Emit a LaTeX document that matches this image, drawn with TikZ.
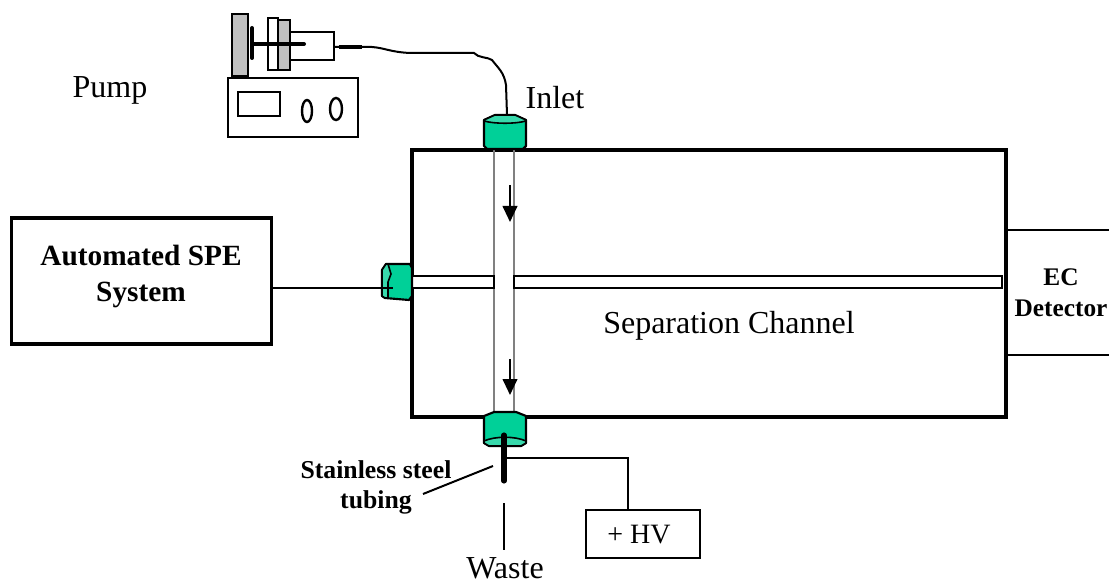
\documentclass[tikz,border=0pt]{standalone}
\usepackage{fontspec}
\setmainfont{Liberation Serif}
\tikzset{
  box/.style={draw,line width=2.4pt,inner sep=0pt},
  thinbox/.style={draw,line width=1.6pt,inner sep=0pt},
  label/.style={inner sep=0pt,font=\fontsize{24}{28}\selectfont},
  boldlabel/.style={inner sep=0pt,align=center,font=\fontsize{19.3}{23}\selectfont\bfseries},
  wire/.style={line width=1.5pt},
  glass/.style={line width=1.4pt,draw=black!50},
  fitbody/.style={draw,line width=1.6pt,line join=round,fill=fitgreen},
  fitcap/.style={draw,line width=1.2pt,line join=round,fill=fitlight},
  flow/.style={line width=1.5pt,-{Triangle[length=12pt,width=11pt]}}
}
\definecolor{fitgreen}{HTML}{00D098}
\definecolor{fitlight}{HTML}{38D9AC}
\definecolor{plategray}{HTML}{C0C0C0}
\usetikzlibrary{arrows.meta}
\begin{document}
\begin{tikzpicture}[x=0.75pt,y=-0.75pt]
  \useasboundingbox (0,0) rectangle (1109,584);
  % main boxes
  \node[box,minimum width=194.5pt,minimum height=94.5pt] (spe) at (141.5,281) {};
  \node[boldlabel,font=\fontsize{22}{27}\selectfont\bfseries] (spelabel) at (141,276) {Automated SPE\\System};
  \node[box,line width=3pt,minimum width=445.5pt,minimum height=200pt] (chip) at (709,283.5) {};
  \node[label] (chiplabel) at (729,326) {Separation Channel};
  \node[label] (pumplabel) at (110,90) {Pump};
  \node[label] (inletlabel) at (555,98) {Inlet};
  \node[label] (wastelabel) at (505,568.5) {Waste};
  \node[boldlabel,font=\fontsize{19}{23}\selectfont\bfseries] (eclabel) at (1061,292.5) {EC\\Detector};
  \node[boldlabel] (steellabel) at (376,487.5) {Stainless steel\\tubing};
  % detector
  \coordinate (dettop) at (1109,230);
  \coordinate (detbot) at (1109,355);
  \draw[wire] (chip.east |- dettop) -- (dettop);
  \draw[wire] (chip.east |- detbot) -- (detbot);
  % channels
  \coordinate (crosstop) at (494,150);
  \coordinate (crossbot) at (494,415);
  \draw[glass] (crosstop) -- (crossbot);
  \draw[glass] (514,150) -- (514,415);
  \node[thinbox,fill=white,minimum width=61.5pt,minimum height=9pt] (sidearm) at (453,282) {};
  \node[thinbox,fill=white,minimum width=366pt,minimum height=9pt] (mainarm) at (758,282) {};
  \draw[flow] (510,185) -- (510,222);
  \draw[flow] (510,359) -- (510,395);
  % fittings
  \draw[fitbody] (484,120) -- (495,115) -- (515,115) -- (526,120) -- (526,146) -- (523,149) -- (487,149) -- (484,146) -- cycle;
  \draw[fitcap] (484,120) -- (495,115) -- (515,115) -- (526,120) -- (526,121) .. controls (515,124) and (495,124) .. (484,121) -- cycle;
  \draw[fitbody] (484,416) -- (494,412) -- (516,412) -- (526,416) -- (526,443) -- (521,446) -- (489,446) -- (484,443) -- cycle;
  \draw[fitcap] (484,443) -- (489,446) -- (521,446) -- (526,443) -- (526,441) .. controls (515,436) and (495,436) .. (484,441) -- cycle;
  \draw[fitbody] (386,264) -- (410,264) -- (412,268) -- (412,296) -- (409,300) -- (385,298) -- (382,296) -- (382,270) -- cycle;
  \draw[fitcap] (386,264) -- (388,264) -- (391,274) -- (388,282) -- (388,298) -- (385,298) -- (382,296) -- (382,270) -- cycle;
  % spe line
  \coordinate (spein) at (393,288);
  \draw[wire] (spe.east |- spein) -- (spein);
  % pump
  \node[thinbox,minimum width=97.5pt,minimum height=44.25pt] (controller) at (293,107.5) {};
  \node[thinbox,minimum width=31.5pt,minimum height=18pt] (display) at (259,104) {};
  \draw[line width=1.8pt] (307,111) ellipse (5 and 11);
  \draw[line width=1.8pt] (336,109) ellipse (6 and 11);
  \node[thinbox,fill=plategray,minimum width=12pt,minimum height=46.5pt] (plate) at (240,45) {};
  \node[thinbox,minimum width=33pt,minimum height=21pt] (syringe) at (312,46) {};
  \node[thinbox,fill=white,minimum width=7.5pt,minimum height=39pt] (flange) at (273,44) {};
  \node[thinbox,fill=plategray,minimum width=9pt,minimum height=37.5pt] (clamp) at (284,45) {};
  \draw[line width=3pt,line cap=round] (252,28) -- (252,58);
  \draw[line width=3pt,line cap=round] (252,44) -- (304,44);
  \draw[line width=3pt] (339,47) -- (362,47);
  \coordinate (inletin) at (507,115);
  \draw[wire] (syringe.east |- 0,47) -- (372,47) .. controls (385,48) and (390,52) .. (410,53)
    -- (474,53) .. controls (478,58) and (488,57) .. (492,60) .. controls (498,68) and (504,72) .. (506,85) -- (inletin);
  % outlet
  \coordinate (tubetop) at (504,435);
  \coordinate (tubebot) at (504,481);
  \coordinate (wastetop) at (504,503);
  \coordinate (wastebot) at (504,550);
  \coordinate (steelfrom) at (423,494);
  \coordinate (steelto) at (493,466);
  \draw[line width=3.8pt,line cap=round] (tubetop) -- (tubebot);
  \draw[wire] (wastetop) -- (wastebot);
  \draw[wire] (steelfrom) -- (steelto);
  \node[thinbox,minimum width=85.5pt,minimum height=36pt] (hv) at (643,534) {};
  \node[label,font=\fontsize{21}{25}\selectfont] (hvlabel) at (639,535) {+ HV};
  \draw[wire] (504,458) -| (hv.north -| 628,0);
\end{tikzpicture}
\end{document}
